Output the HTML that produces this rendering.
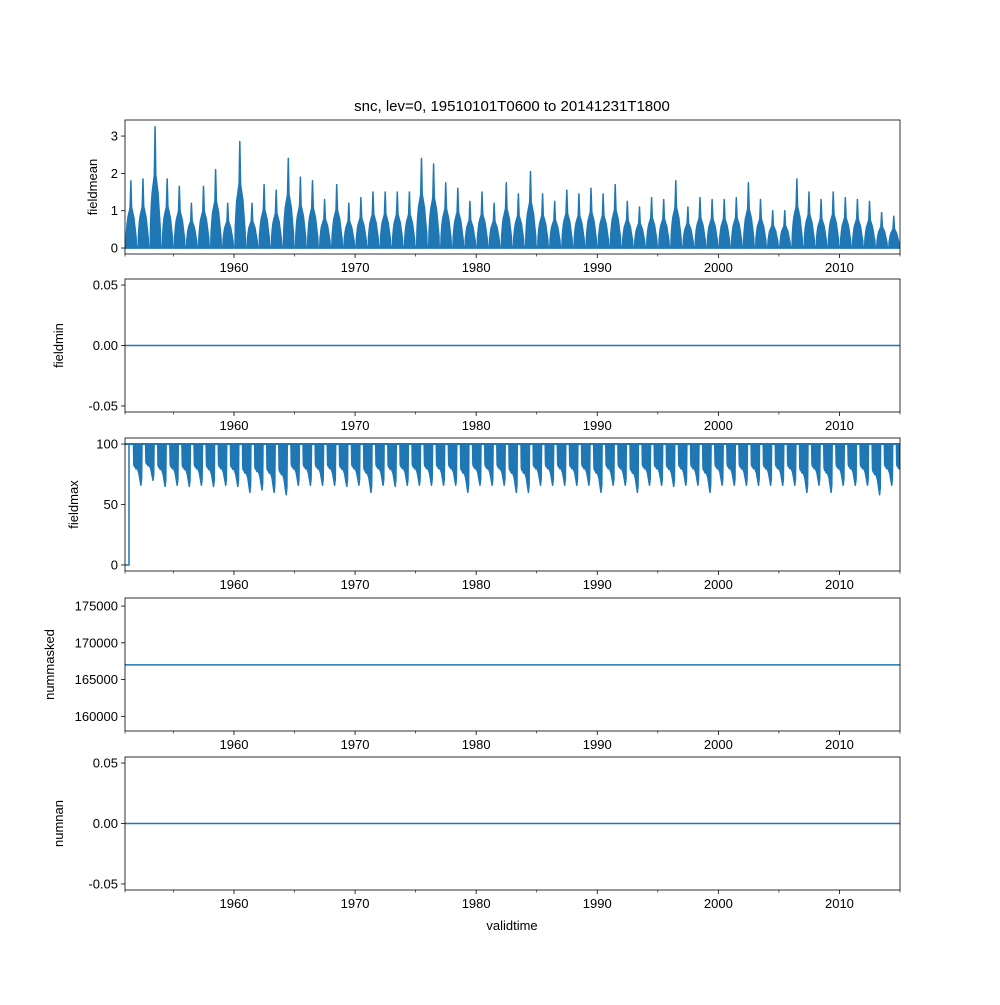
<!DOCTYPE html>
<html><head><meta charset="utf-8"><style>
body{margin:0;background:#fff}
svg text{font-family:"Liberation Sans","DejaVu Sans",sans-serif;font-size:13px;fill:#000}
</style></head><body>
<svg id="fig" width="1000" height="1000" xmlns="http://www.w3.org/2000/svg">
<rect width="1000" height="1000" fill="#fff"/>
<text x="512" y="111" text-anchor="middle" style="font-size:15px">snc, lev=0, 19510101T0600 to 20141231T1800</text>
<text x="512" y="930" text-anchor="middle">validtime</text>
</svg>
<script>
// ---- data ----
const years = [];
for (let y = 1951; y <= 2014; y++) years.push(y);
const meanPeaks = [1.8,1.85,3.25,1.85,1.65,1.2,1.65,2.1,1.2,2.85,1.2,1.7,1.55,2.4,1.9,1.8,1.3,1.7,1.2,1.35,1.5,1.5,1.5,1.5,2.4,2.25,1.75,1.6,1.25,1.5,1.2,1.75,1.45,2.05,1.45,1.25,1.55,1.45,1.6,1.45,1.7,1.25,1.1,1.35,1.3,1.8,1.1,1.35,1.3,1.3,1.35,1.75,1.3,1.0,1.0,1.85,1.5,1.3,1.5,1.35,1.3,1.25,0.95,0.85];
const maxMins = [66,70,65,66,65,66,65,66,65,60,62,60,58,66,66,66,66,65,66,60,66,65,66,66,66,66,66,60,66,66,66,60,60,66,66,66,66,66,60,66,66,60,66,66,65,66,66,60,66,66,66,66,66,66,66,60,66,60,66,66,66,58,66,66];
const humpShape = [0.2,0.35,0.45,0.5,0.55,0.6,1.0,0.6,0.55,0.5,0.45,0.35,0.25,0.15];
const dipShape = [0.5,0.55,0.55,0.6,0.6,0.6,0.65,0.7,0.8,0.9,1.0,0.85];
const fieldminValue = 0;
const nummaskedValue = 167000;
const numnanValue = 0;
const xTicks = [1960,1970,1980,1990,2000,2010];
const xMinorTicks = [1951,1955,1965,1975,1985,1995,2005,2015];

const svg = document.getElementById('fig');
const NS = 'http://www.w3.org/2000/svg';
const X0 = 125, X1 = 900, T0 = 1951, T1 = 2015;
const xs = t => X0 + (t - T0) / (T1 - T0) * (X1 - X0);
const C = '#1f77b4';
function mk(tag, attrs, parent) {
  const e = document.createElementNS(NS, tag);
  for (const k in attrs) e.setAttribute(k, attrs[k]);
  (parent || svg).appendChild(e);
  return e;
}
const panels = [
  {top:120,bot:254,lo:-0.16,hi:3.43,label:'fieldmean',lx:97,ticks:[0,1,2,3],fmt:v=>String(v)},
  {top:279,bot:412,lo:-0.055,hi:0.055,label:'fieldmin',lx:63,ticks:[-0.05,0,0.05],fmt:v=>v.toFixed(2)},
  {top:438,bot:571,lo:-5,hi:105,label:'fieldmax',lx:78,ticks:[0,50,100],fmt:v=>String(v)},
  {top:598,bot:731,lo:158000,hi:176100,label:'nummasked',lx:54,ticks:[160000,165000,170000,175000],fmt:v=>String(v)},
  {top:757,bot:890,lo:-0.055,hi:0.055,label:'numnan',lx:63,ticks:[-0.05,0,0.05],fmt:v=>v.toFixed(2)}
];
panels.forEach((p, i) => {
  const g = mk('g', {});
  
  
  p.ys = v => p.bot - (v - p.lo) / (p.hi - p.lo) * (p.bot - p.top);
  p.g = g;
  const clipId = 'clip' + i;
  const cp = mk('clipPath', {id: clipId}, g);
  mk('rect', {x: X0, y: p.top, width: X1 - X0, height: p.bot - p.top}, cp);
  p.dg = mk('g', {'clip-path': 'url(#' + clipId + ')'}, g);
  p.ticks.forEach(v => {
    const y = p.ys(v);
    mk('line', {x1: X0 - 4, x2: X0, y1: y, y2: y, stroke: '#000', 'stroke-width': 0.8}, g);
    const t = mk('text', {x: X0 - 7, y: y + 4.5, 'text-anchor': 'end'}, g);
    
    
    t.textContent = p.fmt(v);
  });
  xTicks.forEach(v => {
    const x = xs(v);
    mk('line', {x1: x, x2: x, y1: p.bot, y2: p.bot + 4, stroke: '#000', 'stroke-width': 0.8}, g);
    const t = mk('text', {x: x, y: p.bot + 18, 'text-anchor': 'middle'}, g);
    
    
    t.textContent = v;
  });
  xMinorTicks.forEach(v => {
    const x = xs(v);
    mk('line', {x1: x, x2: x, y1: p.bot, y2: p.bot + 2.5, stroke: '#000', 'stroke-width': 0.6}, g);
  });
  const lab = mk('text', {x: p.lx, y: (p.top + p.bot) / 2, 'text-anchor': 'middle', transform: 'rotate(-90 ' + p.lx + ' ' + (p.top + p.bot) / 2 + ')'}, g);
  
  
  lab.textContent = p.label;
});
// panel 1: fieldmean (annual humps)
(function () {
  const p = panels[0];
  mk('line', {x1: X0, x2: X1, y1: p.ys(0.02), y2: p.ys(0.02), stroke: C, 'stroke-width': 3}, p.dg);
  years.forEach((yr, i) => {
    const a = yr + 0.08, b = yr + 0.95, n = humpShape.length;
    const pts = [[a, 0]];
    humpShape.forEach((s, k) => pts.push([a + (b - a) * (k + 0.5) / n, s * meanPeaks[i]]));
    pts.push([b, 0]);
    const d = 'M' + pts.map(q => xs(q[0]).toFixed(1) + ',' + p.ys(q[1]).toFixed(1)).join('L') + 'Z';
    const path = mk('path', {d: d, fill: C, stroke: C, 'stroke-width': 1.5, 'stroke-linejoin': 'round'}, p.dg);
    
    
  });
})();
// panel 3: fieldmax (annual dips)
(function () {
  const p = panels[2];
  const z = mk('path', {d: 'M' + xs(1951) + ',' + p.ys(0) + 'L' + xs(1951.33) + ',' + p.ys(0) + 'L' + xs(1951.33) + ',' + p.ys(100) + 'L' + xs(1951) + ',' + p.ys(100), fill: 'none', stroke: C, 'stroke-width': 1.5}, p.dg);
  
  
  mk('line', {x1: X0, x2: X1, y1: p.ys(100), y2: p.ys(100), stroke: C, 'stroke-width': 2}, p.dg);
  years.forEach((yr, i) => {
    const a = yr + 0.7, b = yr + 1.4, n = dipShape.length;
    const pts = [[a, 100]];
    dipShape.forEach((s, k) => pts.push([a + (b - a) * (k + 0.5) / n, 100 - s * (100 - maxMins[i])]));
    pts.push([b, 100]);
    const d = 'M' + pts.map(q => xs(q[0]).toFixed(1) + ',' + p.ys(q[1]).toFixed(1)).join('L') + 'Z';
    const path = mk('path', {d: d, fill: C, stroke: C, 'stroke-width': 1.5, 'stroke-linejoin': 'round'}, p.dg);
    
    
  });
})();
// flat panels
[[1, fieldminValue, 'fieldmin-line'], [3, nummaskedValue, 'nummasked-line'], [4, numnanValue, 'numnan-line']].forEach(a => {
  const p = panels[a[0]];
  const l = mk('line', {x1: X0, x2: X1, y1: p.ys(a[1]), y2: p.ys(a[1]), stroke: C, 'stroke-width': 1.5}, p.dg);
  
  
});
panels.forEach(p => {
  const r = mk('rect', {x: X0, y: p.top, width: X1 - X0, height: p.bot - p.top, fill: 'none', stroke: '#000', 'stroke-width': 0.8}, p.g);
  
  
});
</script>
</body></html>
